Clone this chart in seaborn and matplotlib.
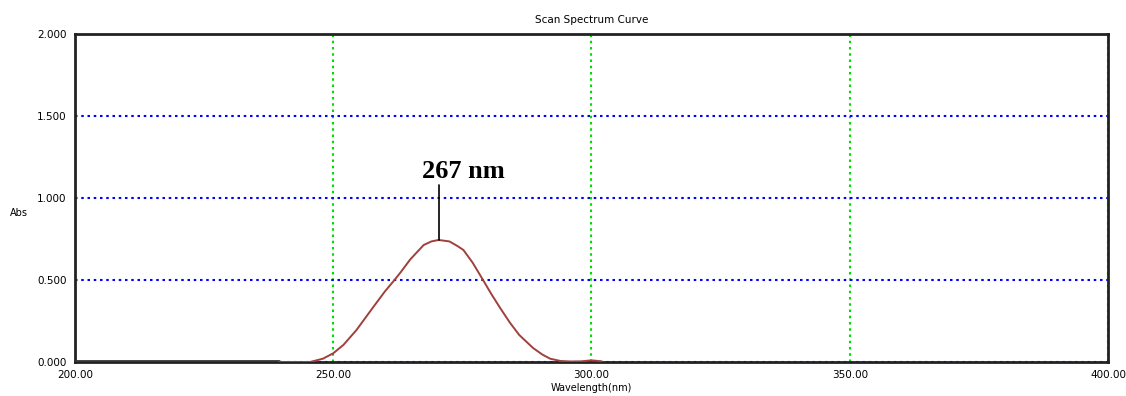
import numpy as np
import pandas as pd
import matplotlib.pyplot as plt
import seaborn as sns
import matplotlib as mpl

sns.set_style("white")
mpl.rcParams['font.family'] = ['Liberation Sans Narrow', 'DejaVu Sans']
mpl.rcParams["axes.unicode_minus"] = False
mpl.rcParams['text.color'] = 'black'
mpl.rcParams['axes.labelcolor'] = 'black'
mpl.rcParams['xtick.color'] = 'black'
mpl.rcParams['ytick.color'] = 'black'

# 吸收光谱数据
wavelength = [239.5, 245.5, 248.0, 250.0, 252.0, 254.5, 257.8, 260.0, 261.7, 263.0,
              264.9, 267.5, 269.0, 270.4, 272.5, 274.0, 275.2, 277.0, 279.0, 280.5,
              282.3, 284.2, 286.0, 288.7, 290.5, 292.0, 294.0, 296.0, 298.0, 300.0, 302.0]
absorb = [0.000, 0.000, 0.020, 0.053, 0.105, 0.195, 0.337, 0.430, 0.494, 0.545,
          0.625, 0.713, 0.735, 0.744, 0.735, 0.708, 0.683, 0.605, 0.500, 0.420,
          0.330, 0.240, 0.165, 0.085, 0.045, 0.020, 0.006, 0.003, 0.004, 0.010, 0.004]
# 基线段 (200-240 nm)
base_wl = [200.0, 239.5]
base_abs = [0.004, 0.004]

peak_wl = 270.4
peak_abs = 0.744
peak_label = "267 nm"

x_ticks = [200, 250, 300, 350, 400]
y_ticks = [0.0, 0.5, 1.0, 1.5, 2.0]

df = pd.DataFrame({'Wavelength': wavelength, 'Abs': absorb})
df_base = pd.DataFrame({'Wavelength': base_wl, 'Abs': base_abs})

fig = plt.figure(figsize=(11.26, 3.96), dpi=100)
ax = fig.add_axes([0.0666, 0.0859, 0.9174, 0.8283])

sns.lineplot(data=df_base, x='Wavelength', y='Abs', ax=ax, color='#333333', linewidth=2.0, zorder=3)
sns.lineplot(data=df, x='Wavelength', y='Abs', ax=ax, color='#a0403c', linewidth=1.4, zorder=4)

ax.set_xlim(200, 400)
ax.set_ylim(0, 2.0)
ax.set_xticks(x_ticks)
ax.set_yticks(y_ticks)
ax.set_xticklabels([f"{v:.2f}" for v in x_ticks])
ax.set_yticklabels([f"{v:.3f}" for v in y_ticks])

# 网格线
ax.xaxis.grid(True, color='#00dd00', linestyle=(0, (1.2, 1.8)), linewidth=1.5)
ax.yaxis.grid(True, color='#0000ff', linestyle=(0, (1.2, 1.8)), linewidth=1.5)
ax.set_axisbelow(True)

for s in ax.spines.values():
    s.set_visible(True)
    s.set_color('#222222')
    s.set_linewidth(2.0)

ax.tick_params(axis='both', direction='in', length=4, width=1.2, color='#222222',
               labelsize=7.5, pad=6)

ax.set_xlabel('Wavelength(nm)', fontsize=7, labelpad=2)
ax.set_ylabel('')
ax.text(-0.054, 0.454, 'Abs', transform=ax.transAxes, fontsize=7, ha='center', va='center')
ax.set_title('Scan Spectrum Curve', fontsize=7.5, pad=8)

# 峰值标注
ax.plot([peak_wl, peak_wl], [peak_abs, 1.08], color='black', linewidth=1.2, zorder=5)
ax.text(275.1, 1.16, peak_label, fontsize=19, fontweight='bold', color='black',
        family=['Liberation Serif', 'DejaVu Serif'], ha='center', va='center')

plt.savefig("out.png", dpi=100)
plt.close()
